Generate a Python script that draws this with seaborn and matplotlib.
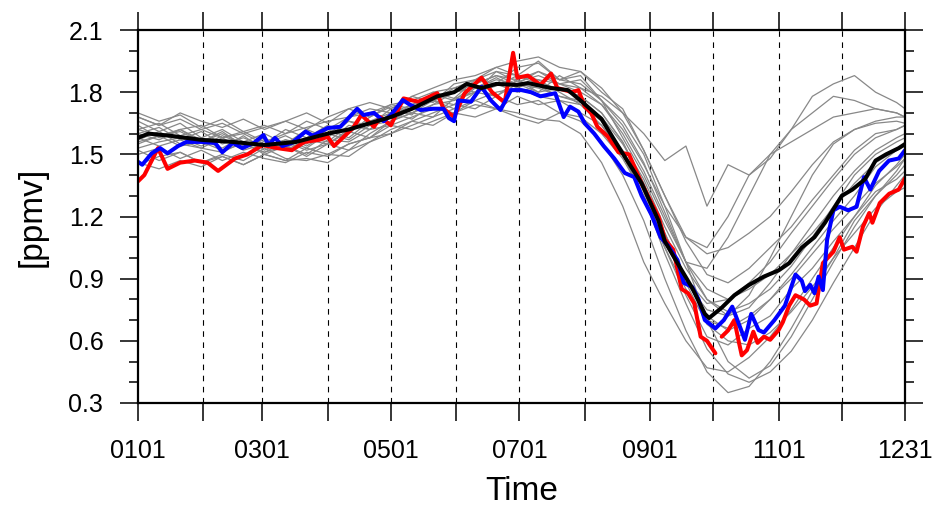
"""Daily ppmv time series: ensemble members (gray), two highlighted years and the mean."""
import numpy as np
import pandas as pd
import matplotlib
matplotlib.use("Agg")
import matplotlib.pyplot as plt
from matplotlib.ticker import MultipleLocator, FixedLocator
import seaborn as sns

# --- data (x = day of year, 0 = Jan 1, 364 = Dec 31) ---
MONTH_STARTS = [0, 31, 59, 90, 120, 151, 181, 212, 243, 273, 304, 334, 364]
TICK_LABELS = ["0101", "", "0301", "", "0501", "", "0701", "", "0901", "", "1101", "", "1231"]

GRAY_DAYS = [0, 10, 20, 30, 40, 50, 60, 70, 80, 90, 100, 110, 120, 130, 140, 150, 160, 170, 180,
             190, 200, 210, 220, 230, 240, 250, 260, 270, 280, 290, 300, 310, 320, 330, 340, 350,
             360, 364]

g01 = [1.70, 1.66, 1.69, 1.63, 1.67, 1.61, 1.64, 1.60, 1.66, 1.62, 1.68, 1.72, 1.70, 1.78, 1.75, 1.84, 1.86, 1.92, 1.88,
       1.95, 1.86, 1.88, 1.76, 1.66, 1.50, 1.25, 0.98, 0.70, 0.50, 0.42, 0.48, 0.62, 0.80, 0.98, 1.15, 1.30, 1.42, 1.48]
g02 = [1.62, 1.65, 1.59, 1.62, 1.58, 1.60, 1.55, 1.62, 1.58, 1.64, 1.60, 1.68, 1.73, 1.70, 1.76, 1.74, 1.82, 1.78, 1.86,
       1.80, 1.88, 1.82, 1.78, 1.70, 1.60, 1.47, 1.54, 1.25, 1.45, 1.40, 1.48, 1.62, 1.78, 1.84, 1.88, 1.80, 1.75, 1.72]
g03 = [1.66, 1.61, 1.65, 1.58, 1.62, 1.56, 1.60, 1.55, 1.62, 1.58, 1.66, 1.64, 1.72, 1.69, 1.80, 1.77, 1.86, 1.84, 1.92,
       1.94, 1.86, 1.90, 1.80, 1.72, 1.52, 1.30, 1.10, 1.05, 1.20, 1.40, 1.50, 1.56, 1.62, 1.68, 1.70, 1.72, 1.70, 1.68]
g04 = [1.52, 1.47, 1.51, 1.46, 1.49, 1.45, 1.50, 1.47, 1.48, 1.46, 1.52, 1.56, 1.62, 1.66, 1.70, 1.74, 1.72, 1.78, 1.74,
       1.76, 1.70, 1.66, 1.56, 1.40, 1.18, 0.90, 0.65, 0.45, 0.35, 0.38, 0.50, 0.66, 0.84, 1.00, 1.18, 1.30, 1.40, 1.45]
g05 = [1.46, 1.43, 1.47, 1.44, 1.49, 1.45, 1.50, 1.47, 1.53, 1.50, 1.55, 1.58, 1.64, 1.62, 1.66, 1.70, 1.68, 1.72, 1.68,
       1.65, 1.70, 1.68, 1.60, 1.48, 1.30, 1.05, 0.82, 0.62, 0.58, 0.66, 0.72, 0.85, 0.95, 1.08, 1.20, 1.32, 1.38, 1.42]
g06 = [1.60, 1.63, 1.57, 1.61, 1.55, 1.58, 1.54, 1.57, 1.53, 1.60, 1.66, 1.62, 1.70, 1.74, 1.79, 1.76, 1.84, 1.88, 1.84,
       1.90, 1.84, 1.82, 1.74, 1.60, 1.42, 1.20, 0.98, 0.85, 0.80, 0.88, 0.98, 1.12, 1.25, 1.38, 1.50, 1.58, 1.62, 1.64]
g07 = [1.55, 1.59, 1.62, 1.57, 1.53, 1.59, 1.52, 1.57, 1.55, 1.62, 1.58, 1.66, 1.70, 1.67, 1.74, 1.80, 1.82, 1.86, 1.84,
       1.82, 1.78, 1.76, 1.66, 1.52, 1.32, 1.08, 0.88, 0.75, 0.72, 0.82, 1.00, 1.20, 1.40, 1.55, 1.62, 1.66, 1.68, 1.68]
g08 = [1.64, 1.58, 1.62, 1.56, 1.61, 1.54, 1.58, 1.52, 1.57, 1.55, 1.62, 1.66, 1.68, 1.74, 1.76, 1.80, 1.82, 1.87, 1.82,
       1.86, 1.80, 1.74, 1.64, 1.50, 1.30, 1.02, 0.78, 0.56, 0.44, 0.40, 0.45, 0.55, 0.70, 0.88, 1.05, 1.22, 1.35, 1.40]
g09 = [1.58, 1.54, 1.57, 1.53, 1.51, 1.56, 1.50, 1.54, 1.49, 1.55, 1.52, 1.60, 1.66, 1.70, 1.68, 1.77, 1.80, 1.83, 1.88,
       1.84, 1.82, 1.78, 1.70, 1.56, 1.36, 1.12, 0.90, 0.72, 0.65, 0.70, 0.80, 0.92, 1.05, 1.18, 1.30, 1.44, 1.52, 1.55]
g10 = [1.62, 1.59, 1.61, 1.56, 1.60, 1.55, 1.57, 1.53, 1.58, 1.56, 1.64, 1.62, 1.70, 1.72, 1.76, 1.82, 1.80, 1.90, 1.85,
       1.88, 1.84, 1.80, 1.74, 1.62, 1.45, 1.25, 1.10, 1.02, 1.05, 1.12, 1.20, 1.32, 1.45, 1.56, 1.62, 1.65, 1.66, 1.65]
g11 = [1.50, 1.53, 1.48, 1.52, 1.47, 1.51, 1.48, 1.46, 1.51, 1.49, 1.55, 1.58, 1.60, 1.66, 1.64, 1.70, 1.74, 1.72, 1.78,
       1.74, 1.76, 1.70, 1.64, 1.50, 1.28, 1.05, 0.85, 0.70, 0.66, 0.72, 0.80, 0.90, 1.02, 1.14, 1.25, 1.36, 1.44, 1.48]
g12 = [1.56, 1.59, 1.54, 1.56, 1.52, 1.55, 1.51, 1.54, 1.50, 1.57, 1.56, 1.62, 1.64, 1.68, 1.72, 1.70, 1.76, 1.72, 1.70,
       1.67, 1.66, 1.60, 1.46, 1.25, 0.98, 0.78, 0.60, 0.47, 0.45, 0.52, 0.62, 0.75, 0.90, 1.05, 1.20, 1.35, 1.45, 1.50]
g13 = [1.68, 1.64, 1.67, 1.62, 1.65, 1.60, 1.63, 1.66, 1.62, 1.68, 1.72, 1.75, 1.72, 1.78, 1.82, 1.86, 1.88, 1.92, 1.95,
       1.97, 1.92, 1.90, 1.82, 1.70, 1.52, 1.30, 1.08, 0.92, 0.88, 0.95, 1.05, 1.15, 1.28, 1.40, 1.52, 1.60, 1.62, 1.64]
g14 = [1.53, 1.56, 1.58, 1.54, 1.59, 1.55, 1.51, 1.56, 1.52, 1.55, 1.61, 1.58, 1.66, 1.70, 1.74, 1.76, 1.80, 1.84, 1.80,
       1.83, 1.78, 1.75, 1.68, 1.55, 1.38, 1.15, 0.95, 0.80, 0.74, 0.78, 0.85, 0.96, 1.10, 1.25, 1.40, 1.50, 1.56, 1.58]
g15 = [1.45, 1.49, 1.51, 1.46, 1.50, 1.47, 1.53, 1.48, 1.47, 1.50, 1.49, 1.56, 1.60, 1.64, 1.68, 1.72, 1.76, 1.80, 1.82,
       1.78, 1.76, 1.74, 1.66, 1.50, 1.30, 1.08, 0.88, 0.68, 0.60, 0.58, 0.64, 0.74, 0.86, 1.00, 1.12, 1.24, 1.32, 1.34]
g16 = [1.60, 1.57, 1.62, 1.64, 1.58, 1.61, 1.56, 1.60, 1.63, 1.66, 1.68, 1.70, 1.74, 1.76, 1.80, 1.82, 1.86, 1.90, 1.88,
       1.86, 1.84, 1.86, 1.76, 1.58, 1.40, 1.18, 0.98, 0.95, 1.10, 1.30, 1.50, 1.62, 1.70, 1.78, 1.76, 1.72, 1.70, 1.68]
g17 = [1.68, 1.64, 1.70, 1.66, 1.63, 1.67, 1.62, 1.66, 1.70, 1.65, 1.72, 1.68, 1.74, 1.72, 1.78, 1.80, 1.84, 1.88, 1.86,
       1.90, 1.86, 1.84, 1.76, 1.64, 1.46, 1.22, 0.98, 0.80, 0.72, 0.76, 0.88, 1.02, 1.16, 1.30, 1.42, 1.52, 1.58, 1.60]
g18 = [1.57, 1.61, 1.55, 1.53, 1.58, 1.52, 1.55, 1.59, 1.54, 1.60, 1.57, 1.64, 1.66, 1.72, 1.76, 1.72, 1.80, 1.78, 1.84,
       1.80, 1.82, 1.78, 1.70, 1.56, 1.36, 1.12, 0.90, 0.78, 0.80, 0.85, 0.92, 1.02, 1.12, 1.24, 1.36, 1.46, 1.52, 1.54]
GRAY_RUNS = [g01, g02, g03, g04, g05, g06, g07, g08, g09, g10, g11, g12, g13, g14, g15, g16, g17, g18]

RED_DAYS = [0, 3, 9.5, 14, 20, 27, 33, 38, 46, 52, 59, 66, 73, 79, 86, 90, 93, 102, 106, 112, 115, 120, 126, 133,
            142, 145, 150, 155, 163, 168, 174, 178, 180, 185, 191, 196, 199, 206, 209, 212, 215, 218, 223, 228,
            233, 239, 243, 247, 250, 254, 258, 261, 264, 267, 270, 274,
            277, 280, 283, 285, 286.5, 289, 292, 294, 297, 300, 304, 306, 309, 312, 316, 319, 322, 325, 330, 333,
            335, 339, 341, 344, 347, 348.5, 352, 356.5, 361, 364]
RED_VALS = [1.37, 1.40, 1.53, 1.43, 1.46, 1.47, 1.46, 1.42, 1.48, 1.50, 1.545, 1.53, 1.52, 1.56, 1.57, 1.585, 1.54,
            1.627, 1.69, 1.633, 1.68, 1.64, 1.77, 1.754, 1.795, 1.72, 1.68, 1.795, 1.87, 1.80, 1.75, 1.99, 1.87,
            1.88, 1.835, 1.89, 1.82, 1.80, 1.81, 1.73, 1.70, 1.633, 1.585, 1.51, 1.50, 1.36, 1.28, 1.20, 1.09, 1.04,
            0.85, 0.83, 0.78, 0.62, 0.60, 0.54,
            0.62, 0.65, 0.70, 0.60, 0.53, 0.555, 0.644, 0.59, 0.62, 0.605, 0.652, 0.69, 0.77, 0.82, 0.80, 0.77,
            0.78, 0.975, 1.03, 1.10, 1.04, 1.054, 1.03, 1.15, 1.217, 1.17, 1.265, 1.31, 1.33, 1.385]
RED_GAP_AFTER = 274  # missing days in the red series

BLUE_DAYS = [0, 2, 6.5, 10.5, 14, 19, 23, 30, 36.6, 40, 45, 49.5, 55, 59.5, 62, 65, 68.5, 73, 79.5, 83, 90, 96,
             104, 107, 112, 116.6, 120, 125.6, 129, 134, 140, 145, 147.5, 150, 152, 158, 163, 167.5, 172, 177,
             182, 186.5, 191, 198, 202, 205, 209, 212, 216.5, 221, 226, 231, 235.5, 239, 243.6, 248, 251.5, 256,
             259, 263, 266, 269, 274, 278, 282, 285, 288, 291, 294.5, 297, 302, 307, 312, 315, 316.5, 319, 321,
             323, 325, 327, 330, 333, 337, 341, 344.5, 347.5, 351.7, 356.4, 361, 364]
BLUE_VALS = [1.464, 1.45, 1.505, 1.53, 1.505, 1.54, 1.56, 1.56, 1.555, 1.51, 1.555, 1.53, 1.555, 1.593, 1.545, 1.58,
             1.54, 1.555, 1.61, 1.59, 1.627, 1.633, 1.72, 1.69, 1.70, 1.66, 1.69, 1.762, 1.74, 1.714, 1.72, 1.72,
             1.675, 1.66, 1.76, 1.754, 1.826, 1.76, 1.714, 1.81, 1.81, 1.80, 1.78, 1.795, 1.68, 1.73, 1.706, 1.65,
             1.60, 1.54, 1.48, 1.41, 1.39, 1.30, 1.21, 1.10, 1.06, 0.99, 0.88, 0.86, 0.80, 0.70, 0.66, 0.70, 0.765,
             0.685, 0.605, 0.73, 0.652, 0.64, 0.70, 0.77, 0.92, 0.89, 0.84, 0.87, 0.83, 0.91, 0.845, 1.087, 1.23,
             1.247, 1.23, 1.247, 1.39, 1.33, 1.42, 1.47, 1.48, 1.52]

BLACK_DAYS = [0, 5, 15, 30, 45, 60, 75, 90, 100, 110, 120, 130, 142, 150, 156, 163, 170, 180, 185, 196, 204, 210,
              220, 229, 239, 247, 250, 256, 263, 269, 271, 277, 283, 290, 297, 304, 309, 315, 321, 326, 334, 339,
              345, 350, 355, 361, 364]
BLACK_VALS = [1.58, 1.60, 1.59, 1.57, 1.56, 1.545, 1.56, 1.60, 1.62, 1.65, 1.68, 1.72, 1.78, 1.80, 1.84, 1.82, 1.84,
              1.835, 1.844, 1.82, 1.81, 1.76, 1.67, 1.52, 1.36, 1.18, 1.08, 0.975, 0.855, 0.73, 0.71, 0.76, 0.82,
              0.87, 0.91, 0.94, 0.975, 1.05, 1.10, 1.17, 1.30, 1.33, 1.38, 1.47, 1.50, 1.53, 1.55]

# --- long-format frames for seaborn ---
gray_df = pd.DataFrame(
    [(i, d, v) for i, run in enumerate(GRAY_RUNS) for d, v in zip(GRAY_DAYS, run)],
    columns=["run", "day", "ppmv"])
red_df = pd.DataFrame({"day": RED_DAYS, "ppmv": RED_VALS})
red_df["seg"] = (red_df["day"] > RED_GAP_AFTER).astype(int)
blue_df = pd.DataFrame({"day": BLUE_DAYS, "ppmv": BLUE_VALS})
black_df = pd.DataFrame({"day": BLACK_DAYS, "ppmv": BLACK_VALS})

sns.set_style("ticks")
plt.rcParams["font.family"] = ["Liberation Sans", "DejaVu Sans"]
plt.rcParams.update({"axes.edgecolor": "black", "xtick.color": "black", "ytick.color": "black",
                     "text.color": "black", "axes.labelcolor": "black"})

fig = plt.figure(figsize=(9.37, 5.08), dpi=100)
ax = fig.add_axes([0.1473, 0.2067, 0.8186, 0.7342])

for d in MONTH_STARTS[1:-1]:
    ax.axvline(d, color="black", lw=0.8, ls=(0, (5, 5)), zorder=0.5)

sns.lineplot(data=gray_df, x="day", y="ppmv", units="run", estimator=None,
             color="#888888", lw=0.9, ax=ax, legend=False)
sns.lineplot(data=red_df, x="day", y="ppmv", units="seg", estimator=None,
             color="#ff0000", lw=2.9, ax=ax, legend=False)
sns.lineplot(data=blue_df, x="day", y="ppmv", estimator=None,
             color="#0000ff", lw=2.9, ax=ax, legend=False)
sns.lineplot(data=black_df, x="day", y="ppmv", estimator=None,
             color="black", lw=2.9, ax=ax, legend=False)

ax.set_xlim(0, 364)
ax.set_ylim(0.3, 2.1)
ax.xaxis.set_major_locator(FixedLocator(MONTH_STARTS))
ax.set_xticklabels(TICK_LABELS)
ax.set_yticks(np.arange(0.3, 2.11, 0.3))
ax.set_yticklabels([f"{v:.1f}" for v in np.arange(0.3, 2.11, 0.3)])
ax.yaxis.set_minor_locator(MultipleLocator(0.1))

ax.tick_params(which="both", direction="out", top=True, right=True, width=1.1, labelsize=18)
ax.tick_params(which="major", length=13)
ax.tick_params(axis="x", pad=13)
ax.tick_params(axis="y", pad=12)
ax.tick_params(which="minor", length=6.5)
for s in ax.spines.values():
    s.set_linewidth(1.6)

ax.set_xlabel("Time", fontsize=24, labelpad=9)
ax.set_ylabel("[ppmv]", fontsize=24, labelpad=15)

fig.savefig("out.png", dpi=100)
